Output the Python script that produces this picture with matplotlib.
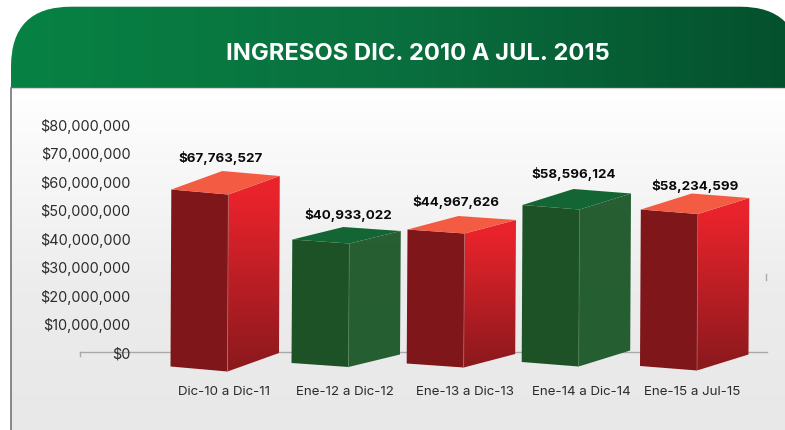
import numpy as np
import matplotlib
matplotlib.use("Agg")
import matplotlib.pyplot as plt
from matplotlib.patches import Polygon, FancyBboxPatch
from matplotlib.colors import LinearSegmentedColormap

# ---- data ----
title = "INGRESOS DIC. 2010 A JUL. 2015"
categories = ["Dic-10 a Dic-11", "Ene-12 a Dic-12", "Ene-13 a Dic-13", "Ene-14 a Dic-14", "Ene-15 a Jul-15"]
values = [67763527, 40933022, 44967626, 58596124, 58234599]
# height the 3D front face actually reaches on the printed axis (the picture is not to scale)
drawn_tops = [56.93e6, 39.40e6, 42.91e6, 51.50e6, 49.92e6]
drawn_bases = [-5.12e6, -3.89e6, -4.07e6, -3.54e6, -4.94e6]
y_ticks = [0, 10e6, 20e6, 30e6, 40e6, 50e6, 60e6, 70e6, 80e6]
themes = ["red", "green", "red", "green", "red"]

# ---- layout (pixels) ----
W, H = 785, 431
AX_L, AX_R, AX_T, AX_B = 80, 767, 124.7, 352.9
LINE_Y = 353.4
bar_left = [170.5, 291.5, 406.7, 521.7, 640]
label_x = [223.5, 345, 465, 581, 692]
value_x = [220.5, 348, 455.7, 573.5, 695]
value_y = [158, 215.5, 202.5, 174, 186]
front_w = 57
front_drop = [5, 4, 4, 4.5, 4.5]
depth_x = 51.5
depth_rise = [18.5, 12.5, 13.5, 16, 16]

styles = {
    "red": dict(front="#7f171a", top="#f35c42", g0="#e9232c", g1="#8a191d", edge="#a86a6a"),
    "green": dict(front="#1c5226", top="#136633", g0="#275f33", g1="#255e31", edge="#4f7f58"),
}

plt.rcParams["font.family"] = ["Inter", "DejaVu Sans"]
fig = plt.figure(figsize=(W / 100, H / 100), dpi=100)

# background layer in pixel coordinates
bg = fig.add_axes([0, 0, 1, 1], zorder=0)
bg.set_xlim(0, W)
bg.set_ylim(H, 0)
bg.axis("off")
panel = np.linspace(0, 1, 256).reshape(-1, 1)
cm_panel = LinearSegmentedColormap.from_list("p", [(0, "#ffffff"), (0.6, "#ececec"), (1, "#e8e8e8")])
bg.imshow(panel, extent=(11, W, H, 89), cmap=cm_panel, aspect="auto", vmin=0, vmax=1)
head = FancyBboxPatch((71, 67.7), 669, 60, boxstyle="round,pad=60,rounding_size=60",
                      fc="none", ec="none", transform=bg.transData)
bg.add_patch(head)
cm_head = LinearSegmentedColormap.from_list("h", ["#078244", "#0a6f3e", "#04512e"])
hi = bg.imshow(np.linspace(0, 1, 256).reshape(1, -1), extent=(11, W, 88.7, 7), cmap=cm_head,
               aspect="auto", vmin=0, vmax=1)
hi.set_clip_path(head)
bg.set_xlim(0, W)
bg.set_ylim(H, 0)
bg.plot([11, W], [88.9, 88.9], color="#d4d4d4", lw=0.9)
bg.plot([11.3, 11.3], [89, H], color="#6a6a6a", lw=1.1)
bg.text(417.5, 54, title, color="white", fontsize=17.1, fontweight="bold", ha="center", va="center")

# chart axes
ax = fig.add_axes([AX_L / W, 1 - AX_B / H, (AX_R - AX_L) / W, (AX_B - AX_T) / H], zorder=1)
ax.patch.set_alpha(0)
ax.set_xlim(AX_L, AX_R)
ax.set_ylim(0, 80e6)
PX = 80e6 / (AX_B - AX_T)  # dollars per pixel
line_val = (AX_B - LINE_Y) * PX

for s in ["top", "left", "right", "bottom"]:
    ax.spines[s].set_visible(False)
ax.plot([AX_L, AX_R], [line_val, line_val], color="#a9a9a9", lw=1.0, clip_on=False, zorder=1)
ax.set_yticks(y_ticks)
ax.set_yticklabels(["$" + format(int(v), ",") for v in y_ticks], fontsize=10.4, color="#2b2b2b")
ax.tick_params(axis="y", length=0, pad=-36.5)
ax.set_xticks(label_x)
ax.set_xticklabels(categories, fontsize=9.6, color="#2b2b2b")
ax.tick_params(axis="x", length=0, pad=24)
for lab in ax.get_yticklabels():
    lab.set_zorder(6)
ax.plot([AX_L, AX_L], [line_val, line_val - 3.5 * PX], color="#a9a9a9", lw=1, clip_on=False)
ax.plot([AX_R - 1, AX_R - 1], [(AX_B - 275) * PX, (AX_B - 281) * PX], color="#a9a9a9", lw=1, clip_on=False)

for i, theme in enumerate(themes):
    st = styles[theme]
    x0 = bar_left[i]
    x1 = x0 + front_w
    x2 = x1 + depth_x
    top, base = drawn_tops[i], drawn_bases[i]
    drop = front_drop[i] * PX
    rise = depth_rise[i] * PX
    lean = 0.8  # bars lean slightly to the right towards the top
    front = [(x0, base), (x1, base - drop), (x1 + lean, top - drop), (x0 + lean, top)]
    right = [(x1, base - drop), (x2, base - drop + rise), (x2 + lean, top - drop + rise), (x1 + lean, top - drop)]
    cap = [(x0 + lean, top), (x1 + lean, top - drop), (x2 + lean, top - drop + rise), (x0 + lean + depth_x - 0.5, top + rise)]

    ax.add_patch(Polygon(front, closed=True, fc=st["front"], ec="none", clip_on=False, zorder=3))
    rp = Polygon(right, closed=True, fc="none", ec="none", clip_on=False, zorder=3)
    ax.add_patch(rp)
    cmap = LinearSegmentedColormap.from_list("g", [(0, st["g0"]), (0.12, st["g0"]), (1, st["g1"])])
    im = ax.imshow(np.linspace(0, 1, 128).reshape(-1, 1), cmap=cmap, vmin=0, vmax=1, aspect="auto",
                   extent=(x1, x2 + 1, base - drop, top + rise), origin="upper", zorder=3)
    im.set_clip_box(fig.bbox)
    im.set_clip_path(rp)
    ax.add_patch(Polygon(cap, closed=True, fc=st["top"], ec="none", clip_on=False, zorder=3.1))
    ax.plot([x1, x1 + lean], [base - drop, top - drop], color=st["edge"], lw=0.5, clip_on=False, zorder=3.2)
    ax.text(value_x[i], (AX_B - value_y[i]) * PX, "$" + format(values[i], ","), ha="center", va="center",
            fontsize=9.6, fontweight="bold", color="#0a0a0a", clip_on=False, zorder=5)

ax.set_xlim(AX_L, AX_R)
ax.set_ylim(0, 80e6)
fig.savefig("out.png", dpi=100)
